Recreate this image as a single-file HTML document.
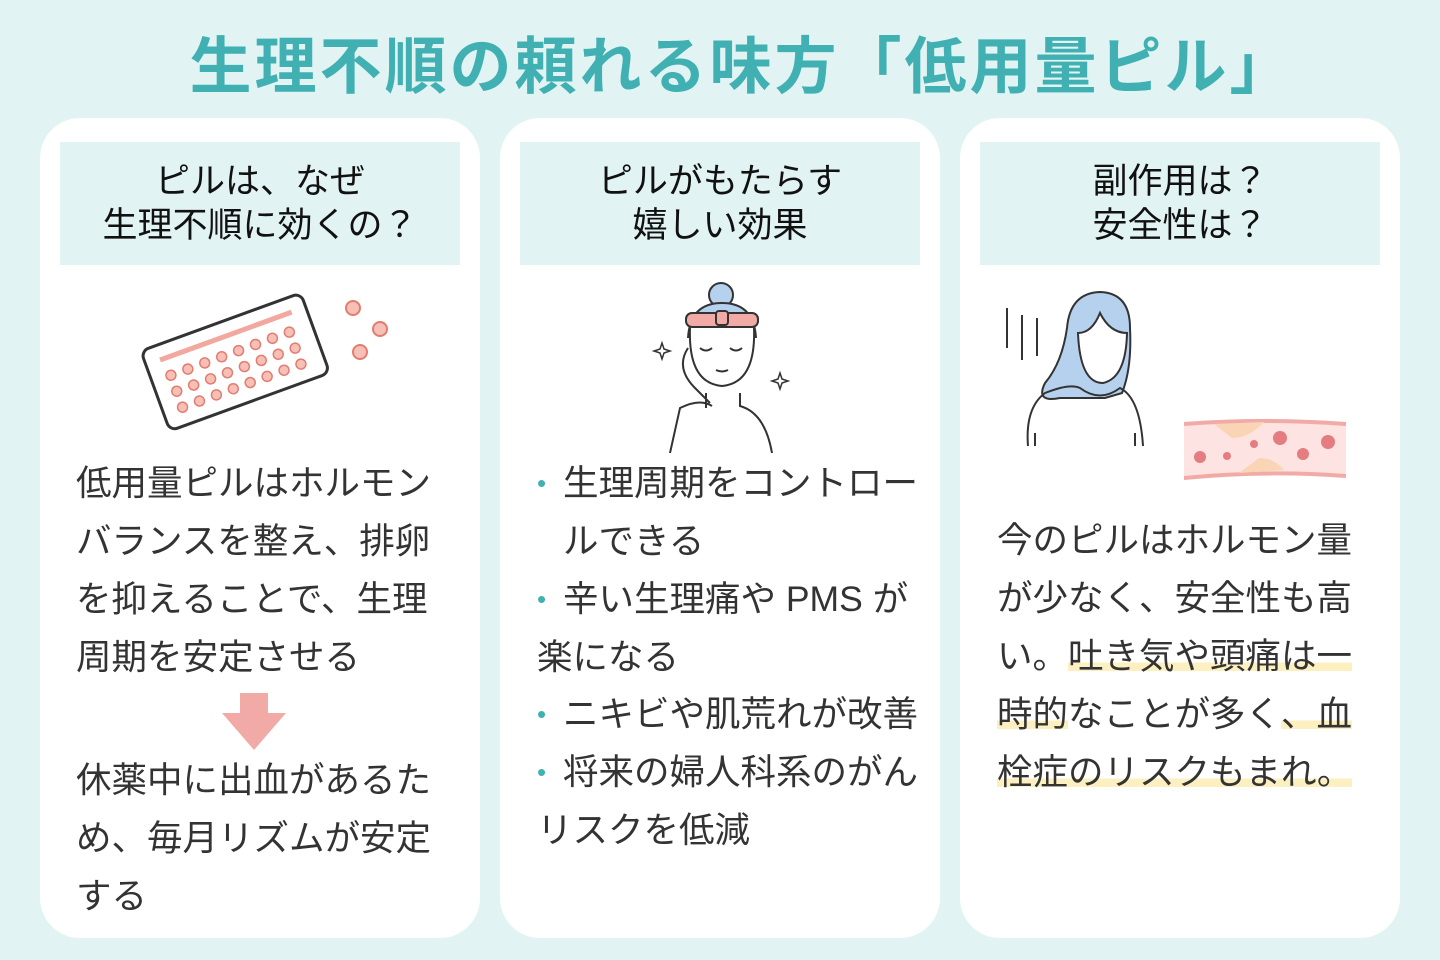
<!DOCTYPE html>
<html><head><meta charset="utf-8"><style>
*{margin:0;padding:0;box-sizing:border-box}
body{width:1440px;height:960px;background:#e1f3f3;position:relative;overflow:hidden;font-family:"Liberation Sans","Noto Sans CJK JP",sans-serif;color:#333}
.title{position:absolute;left:22px;width:1440px;top:30px;text-align:center;font-size:62px;font-weight:bold;color:#41b0b2;line-height:76px;letter-spacing:3px}
.card{position:absolute;top:118px;width:440px;height:820px;background:#fff;border-radius:40px}
.hd{position:absolute;left:20px;top:24px;width:400px;height:123px;background:#e1f3f3;text-align:center;font-size:35px;line-height:44px;color:#111;padding-top:18px}
.l{position:absolute;font-size:35.5px;line-height:58px;white-space:nowrap;color:#333}
.b{color:#41b0b2;font-size:26px;position:absolute;left:-26px;top:0}
.hl{background:linear-gradient(transparent 66%,#fdf0c0 66%,#fdf0c0 88%,transparent 88%)}
svg{position:absolute}
</style></head><body>
<div class="title">生理不順の頼れる味方「低用量ピル」</div>

<div class="card" style="left:40px">
<div class="hd">ピルは、なぜ<br>生理不順に効くの？</div>
<svg style="left:100px;top:170px" width="260" height="150" viewBox="0 0 260 150">
<g transform="rotate(-20 85 75)"><rect x="10" y="35" width="170" height="85" rx="8" fill="#fff" stroke="#333" stroke-width="3"/>
<line x1="25" y1="50" x2="165" y2="50" stroke="#f2a89e" stroke-width="5"/>
<g fill="#f6c0b6" stroke="#e37c70" stroke-width="1.5">
<circle cx="30" cy="68" r="5"/><circle cx="48" cy="68" r="5"/><circle cx="66" cy="68" r="5"/><circle cx="84" cy="68" r="5"/><circle cx="102" cy="68" r="5"/><circle cx="120" cy="68" r="5"/><circle cx="138" cy="68" r="5"/><circle cx="156" cy="68" r="5"/>
<circle cx="30" cy="85" r="5"/><circle cx="48" cy="85" r="5"/><circle cx="66" cy="85" r="5"/><circle cx="84" cy="85" r="5"/><circle cx="102" cy="85" r="5"/><circle cx="120" cy="85" r="5"/><circle cx="138" cy="85" r="5"/><circle cx="156" cy="85" r="5"/>
<circle cx="30" cy="102" r="5"/><circle cx="48" cy="102" r="5"/><circle cx="66" cy="102" r="5"/><circle cx="84" cy="102" r="5"/><circle cx="102" cy="102" r="5"/><circle cx="120" cy="102" r="5"/><circle cx="138" cy="102" r="5"/><circle cx="156" cy="102" r="5"/></g></g>
<g fill="#f6c0b6" stroke="#e37c70" stroke-width="2"><circle cx="213" cy="20" r="7"/><circle cx="240" cy="41" r="7"/><circle cx="220" cy="64" r="7"/></g>
</svg>
<div class="l" style="left:36px;top:336px">低用量ピルはホルモン</div>
<div class="l" style="left:36px;top:394px">バランスを整え、排卵</div>
<div class="l" style="left:36px;top:452px">を抑えることで、生理</div>
<div class="l" style="left:36px;top:510px">周期を安定させる</div>
<svg style="left:182px;top:575px" width="64" height="58"><polygon points="18,0 46,0 46,20 64,20 32,57 0,20 18,20" fill="#f2aaa6"/></svg>
<div class="l" style="left:36px;top:633px">休薬中に出血があるた</div>
<div class="l" style="left:36px;top:691px">め、毎月リズムが安定</div>
<div class="l" style="left:36px;top:749px">する</div>
</div>

<div class="card" style="left:500px">
<div class="hd">ピルがもたらす<br>嬉しい効果</div>
<svg style="left:140px;top:160px" width="170" height="175" viewBox="0 0 170 175" fill="none" stroke="#333" stroke-width="2">
<circle cx="81" cy="17" r="12" fill="#b6d1ee"/>
<path d="M48 60 Q50 25 82 25 Q114 25 116 60" fill="#b6d1ee"/>
<rect x="46" y="35" width="72" height="14" rx="6" fill="#f2aaa6"/>
<rect x="76" y="33" width="12" height="14" rx="3" fill="#f2aaa6"/>
<path d="M50 50 Q48 105 82 108 Q116 105 114 50" fill="#fff"/>
<path d="M60 70 q6 5 12 0 M90 70 q6 5 12 0 M76 92 q6 3 12 0"/>
<path d="M48 70 Q35 90 55 110 L70 125 M30 175 L40 130 Q60 120 72 128 M132 175 Q125 135 100 128 L100 115 M66 115 L66 130"/>
<path d="M22 65 l2 6 6 2 -6 2 -2 6 -2 -6 -6 -2 6 -2z M140 95 l2 6 6 2 -6 2 -2 6 -2 -6 -6 -2 6 -2z" stroke-width="1.5"/>
</svg>
<div class="l" style="left:63px;top:336px"><span class="b">•</span>生理周期をコントロー</div>
<div class="l" style="left:63px;top:394px">ルできる</div>
<div class="l" style="left:63px;top:452px"><span class="b">•</span>辛い生理痛や PMS が</div>
<div class="l" style="left:37px;top:510px">楽になる</div>
<div class="l" style="left:63px;top:567px"><span class="b">•</span>ニキビや肌荒れが改善</div>
<div class="l" style="left:63px;top:625px"><span class="b">•</span>将来の婦人科系のがん</div>
<div class="l" style="left:37px;top:683px">リスクを低減</div>
</div>

<div class="card" style="left:960px">
<div class="hd">副作用は？<br>安全性は？</div>
<svg style="left:40px;top:170px" width="150" height="165" viewBox="0 0 150 165" fill="none" stroke="#333" stroke-width="2">
<path d="M7 20 V60 M22 27 V72 M37 30 V68"/>
<path d="M67 40 Q70 5 100 4 Q130 5 130 40 Q132 80 122 105 L105 110 L60 110 Q35 115 45 95 Q62 75 67 40Z" fill="#b6d1ee"/>
<path d="M78 45 Q80 95 103 95 Q126 90 127 45 Q110 45 100 25 Q92 45 78 45Z" fill="#fff"/>
<path d="M28 158 Q25 120 45 105 Q70 95 80 100 Q100 115 120 100 Q140 110 143 158 M35 158 V145 M135 158 V145"/>
</svg>
<svg style="left:224px;top:300px" width="162" height="64" viewBox="0 0 162 64">
<path d="M0 6 Q80 0 162 6 V58 Q80 52 0 62Z" fill="#fde3e1"/>
<path d="M0 6 Q80 0 162 6 M0 60 Q80 52 162 58" stroke="#f2aaa6" stroke-width="4" fill="none"/>
<path d="M30 6 L80 4 Q65 20 48 20Z M55 55 L100 52 Q90 40 75 40Z" fill="#f9d5b5"/>
<g fill="#e47c80"><circle cx="16" cy="39" r="6"/><circle cx="43" cy="38" r="4"/><circle cx="70" cy="26" r="4"/><circle cx="96" cy="20" r="7"/><circle cx="119" cy="36" r="6"/><circle cx="144" cy="24" r="7"/></g>
</svg>
<div class="l" style="left:37px;top:393px">今のピルはホルモン量</div>
<div class="l" style="left:37px;top:451px">が少なく、安全性も高</div>
<div class="l" style="left:37px;top:509px">い。<span class="hl">吐き気や頭痛は一</span></div>
<div class="l" style="left:37px;top:567px"><span class="hl">時的</span>なことが多く<span class="hl">、血</span></div>
<div class="l" style="left:37px;top:625px"><span class="hl">栓症のリスクもまれ。</span></div>
</div>
</body></html>
